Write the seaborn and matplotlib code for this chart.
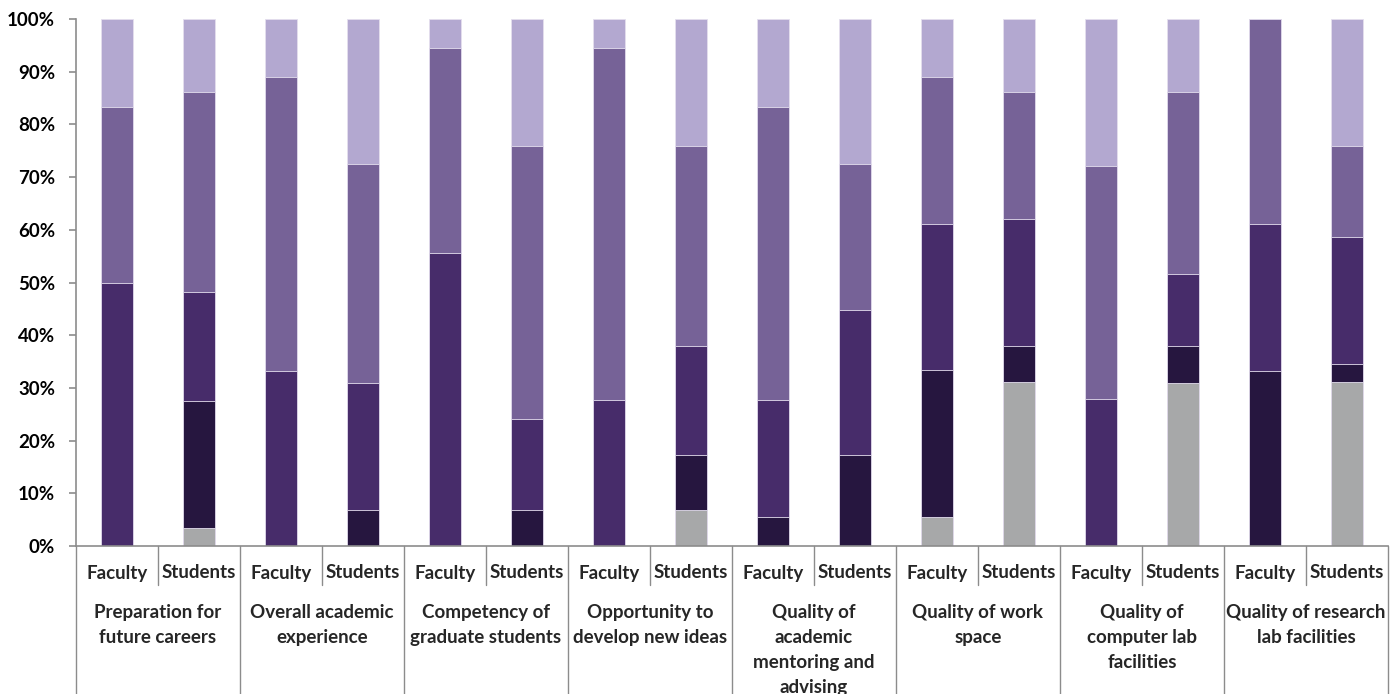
import matplotlib
matplotlib.use("Agg")
import matplotlib.pyplot as plt
import matplotlib.transforms as mtransforms
import numpy as np
import pandas as pd
import seaborn as sns

# ---- data (percent of respondents) ----
groups = ["Preparation for\nfuture careers", "Overall academic\nexperience",
          "Competency of\ngraduate students", "Opportunity to\ndevelop new ideas",
          "Quality of\nacademic\nmentoring and\nadvising", "Quality of work\nspace",
          "Quality of\ncomputer lab\nfacilities", "Quality of research\nlab facilities"]
roles = ["Faculty", "Students"]
level1 = [0, 3.4, 0, 0, 0, 0, 0, 6.9, 0, 0, 5.6, 31.0, 0, 31.0, 0, 31.0]           # gray
level2 = [0, 24.1, 0, 6.9, 0, 6.9, 0, 10.3, 5.6, 17.2, 27.8, 6.9, 0, 6.9, 33.3, 3.4]  # very dark
level3 = [50.0, 20.7, 33.3, 24.1, 55.6, 17.2, 27.8, 20.7, 22.2, 27.6, 27.8, 24.1, 27.8, 13.8, 27.8, 24.1]
level4 = [33.3, 37.9, 55.6, 41.4, 38.9, 51.7, 66.7, 37.9, 55.6, 27.6, 27.8, 24.1, 44.4, 34.5, 38.9, 17.2]
level5 = [16.7, 13.8, 11.1, 27.6, 5.6, 24.1, 5.6, 24.1, 16.7, 27.6, 11.1, 13.8, 27.8, 13.8, 0, 24.1]
yticks = [0, 10, 20, 30, 40, 50, 60, 70, 80, 90, 100]

colors = ["#A7A8A9", "#26163F", "#472C6A", "#766297", "#B3A8D0"]

sns.set_theme(style="white")
plt.rcParams["font.family"] = ["Lato", "DejaVu Sans"]

levels = np.array([level1, level2, level3, level4, level5], dtype=float)
totals = levels.sum(axis=0)
cum = np.cumsum(levels, axis=0) / totals * 100.0

n = len(level1)
bar_ids = [str(i) for i in range(n)]

fig = plt.figure(figsize=(13.93, 6.94), dpi=100)
ax = fig.add_axes([76 / 1393, 1 - 546 / 694, 1312 / 1393, 527 / 694])

# draw stacked bars as overlapping cumulative bars (top level first)
for k in range(len(levels) - 1, -1, -1):
    df = pd.DataFrame({"bar": bar_ids, "value": cum[k]})
    sns.barplot(data=df, x="bar", y="value", order=bar_ids, color=colors[k],
                saturation=1, width=0.4, edgecolor="#E4DEEE", linewidth=0.6,
                ax=ax, errorbar=None)

FS = 13.5
ax.set_xlim(-0.5, n - 0.5)
ax.set_ylim(0, 100)
ax.set_yticks(yticks)
ax.set_yticklabels([f"{t}%" for t in yticks], fontsize=FS, fontweight="bold")
ax.set_xticks([])
ax.set_xlabel("")
ax.set_ylabel("")
for s in ["top", "right"]:
    ax.spines[s].set_visible(False)
for s in ["left", "bottom"]:
    ax.spines[s].set_color("#8C8C8C")
    ax.spines[s].set_linewidth(1.2)
ax.tick_params(axis="y", which="both", left=True, length=5, width=1.2,
               color="#8C8C8C", pad=10, labelcolor="black")

trans = mtransforms.blended_transform_factory(ax.transData, ax.transAxes)
bottom_fig = -(546 / 527)  # bottom of figure in axes coords
inner_bottom = -(585 - 546) / 527

# separators
for g in range(len(groups) + 1):
    xg = -0.5 + 2 * g
    ax.plot([xg, xg], [0, bottom_fig], transform=trans, color="#8C8C8C",
            lw=1.0, clip_on=False)
for g in range(len(groups)):
    xi = 0.5 + 2 * g
    ax.plot([xi, xi], [0, inner_bottom], transform=trans, color="#8C8C8C",
            lw=1.0, clip_on=False)

# labels
for i in range(n):
    ax.text(i, -(573 - 546) / 527, roles[i % 2], transform=trans, ha="center",
            va="center", fontsize=FS, fontweight="bold")
for g, name in enumerate(groups):
    ax.text(2 * g + 0.5, -(604 - 546) / 527, name, transform=trans, ha="center",
            va="top", fontsize=FS, fontweight="bold", linespacing=1.56,
            multialignment="center")

fig.savefig("out.png", dpi=100)
